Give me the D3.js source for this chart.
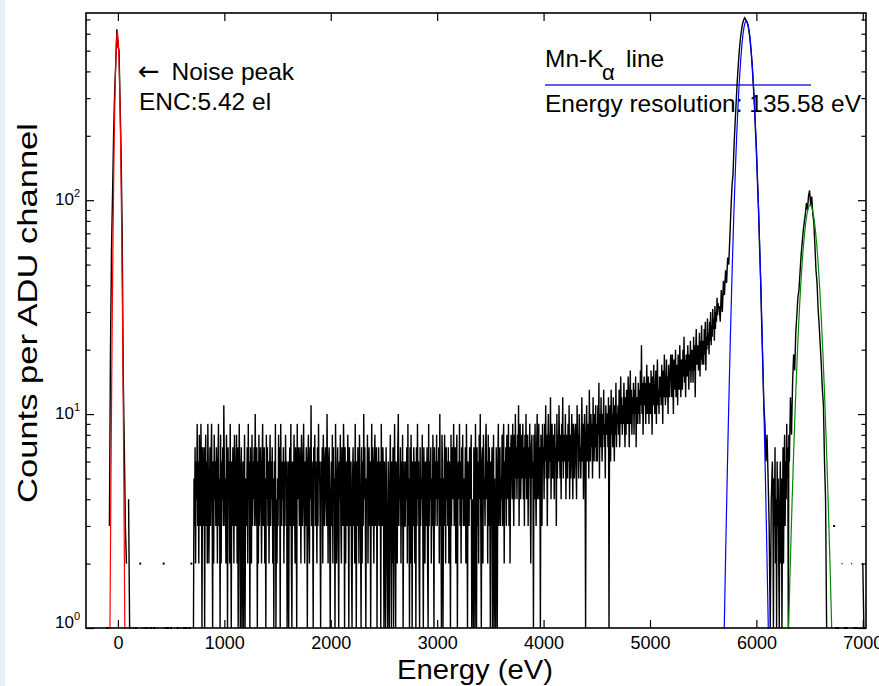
<!DOCTYPE html>
<html><head><meta charset="utf-8">
<script src="https://cdn.jsdelivr.net/npm/d3@7"></script>
<style>body{margin:0;background:#fff}svg{display:block}</style>
</head><body>
<svg id="chart" width="879" height="686"></svg>
<script>
// ---------------- DATA ----------------
// measured spectrum, counts per ADU channel (0 = empty channel)
const noisePeakStart = -110, noisePeakStep = 10;
const noisePeakCounts = [0,1,0,3,20,60,110,210,330,440,630,520,505,290,165,70,15,7,3,2,0,4,1];

const lowGapStart = 120, lowGapStep = 10;
const lowGapCounts = [1,0,1,1,0,1,0,0,0,2,0,1,1,0,1,0,1,1,0,1,0,0,1,0,1,1,0,0,0,0,0,2,0,1,0,1,0,0,1,0,0,0,0,0,1,0,1,1,0,0,1,0,1,0,0,1,0,2];

const plateauStart = 700, plateauStep = 5;
const plateauCounts = [
0,0,1,5,3,7,2,6,4,9, 3,6,2,8,4,3,9,5,1,7, 4,3,7,1,5,8,3,6,2,9, 5,2,4,7,3,6,9,4,1,6,
2,8,4,6,3,7,5,2,6,9, 3,5,1,8,2,6,4,7,3,11, 6,3,5,2,8,5,1,7,4,6, 2,9,4,1,6,3,7,5,2,8,
4,3,6,8,2,7,1,3,9,5, 1,5,7,1,3,6,1,4,8,1, 5,3,4,7,2,9,4,6,1,7, 4,2,8,3,6,4,7,3,10,5,
3,7,1,6,2,8,3,5,7,4, 2,6,9,3,4,7,2,5,1,8, 4,7,3,6,2,5,8,3,6,4, 7,2,5,1,6,3,9,1,4,2,
5,3,8,4,7,1,9,4,3,6, 4,7,2,6,3,8,5,6,1,3, 6,1,5,7,3,9,2,1,6,4, 3,8,4,2,7,5,1,9,4,7,
5,3,7,4,2,8,6,3,5,9, 4,2,6,3,7,5,1,6,8,3, 2,7,4,11,3,6,4,1,7,5, 8,3,6,4,2,7,3,9,5,6,
3,1,6,4,7,2,8,5,3,6, 7,4,3,10,5,2,6,7,3,1, 4,6,3,8,2,7,4,5,1,9, 5,2,4,7,3,1,6,4,8,3,
2,7,4,3,9,6,1,7,2,5, 6,3,8,4,1,7,5,3,6,2, 1,5,7,3,6,2,9,4,1,6, 3,7,4,2,8,5,3,1,7,2,
6,3,10,4,7,3,1,5,4,8, 2,5,7,3,6,1,4,9,3,7, 4,2,6,8,3,5,7,1,6,3, 7,4,3,6,1,9,4,3,7,5,
1,6,3,1,7,4,2,1,6,3, 1,5,8,3,1,6,2,7,1,4, 9,3,1,6,4,2,7,10,3,5, 4,7,2,6,3,8,1,4,6,3,
3,6,4,7,2,9,3,5,1,7, 2,8,4,1,6,3,7,5,2,6, 1,7,3,9,4,6,2,1,7,3, 5,4,8,3,1,7,4,2,6,3,
4,7,2,1,9,3,6,4,7,2, 5,3,8,4,1,7,3,6,4,8, 3,6,4,7,2,10,3,5,1,8, 6,1,5,3,8,5,2,7,4,6,
3,7,2,6,4,1,8,3,7,4, 5,9,3,4,7,2,6,8,1,4, 6,4,9,3,6,2,7,4,8,3, 5,3,4,7,2,9,5,1,6,4,
3,7,4,6,8,1,4,3,1,7, 5,1,9,4,1,7,3,6,2,8, 4,10,3,1,6,7,2,8,4,5, 3,7,9,4,6,2,8,3,7,4,
1,6,3,7,1,4,8,1,5,2, 1,7,4,1,6,9,3,5,7,3, 5,4,8,3,7,9,2,6,4,7, 3,8,5,4,9,3,7,2,6,8,
6,4,9,5,3,8,4,10,5,7, 4,8,5,11,3,7,9,4,6,8, 5,9,4,7,3,8,5,10,4,6, 8,3,7,5,9,4,2,7,8,5,
6,1,8,4,9,5,3,7,10,4, 5,9,4,7,1,8,6,3,9,6];

const tailStart = 4000, tailStep = 5;
const tailCounts = [
7,4,9,6,11,5,8,3,7,10, 5,8,6,12,4,7,9,5,6,8, 4,9,6,7,3,10,5,8,6,11, 7,5,8,4,9,6,12,5,7,8,
6,10,4,7,8,5,9,6,11,4, 8,5,7,10,6,4,9,7,5,8, 9,6,4,11,7,8,5,10,6,7, 5,8,12,6,9,4,7,10,6,1,
8,11,6,7,9,5,13,8,6,10, 7,9,5,12,8,6,10,7,11,6, 9,6,11,8,14,5,10,7,12,8, 6,10,8,13,7,9,5,11,8,10,
10,7,12,1,9,11,6,13,8,10, 7,12,9,6,11,8,14,7,10,9, 11,8,13,7,10,15,9,12,8,11, 9,14,10,7,12,8,13,11,9,15,
12,7,11,16,9,13,8,12,10,14, 8,13,10,15,7,12,11,9,14,10, 13,9,16,11,21,10,14,8,12,15, 11,14,9,13,17,10,12,15,9,13,
14,10,16,12,8,15,11,17,13,10, 12,16,9,14,18,11,13,10,15,12, 15,11,17,13,9,16,12,19,14,11, 13,18,12,15,10,17,14,12,16,19,
16,12,19,14,10,18,13,15,20,12, 14,17,11,19,15,13,21,16,12,18, 17,13,20,15,23,14,18,12,19,16, 15,21,17,13,19,16,22,14,18,20,
18,14,23,16,21,12,20,25,17,19, 21,16,19,24,15,22,18,26,17,20, 22,17,25,19,27,16,23,20,28,21, 24,19,27,22,30,21,26,23,31,25,
28,22,32,25,30,27,35,29,33,31];

const kaPeakStart = 5650, kaPeakStep = 10;
const kaPeakCounts = [32,27,38,30,42,36,47,41,54,50,66,88,115,132,180,229,288,360,430,505,570,622,668,695,712,
698,684,660,618,568,497,430,352,288,220,170,122,90,60,42,26,17,11,9,6,8,5,3,1,4,6];

const valleyStart = 6155, valleyStep = 5;
const valleyCounts = [4,1,5,3,7,2,4,1,6,3, 5,2,1,4,6,2,5,1,3,7, 2,5,8,3,6,4,9,5,7,1, 8];

const kbPeakStart = 6310, kbPeakStep = 10;
const kbPeakCounts = [6,12,8,14,19,16,24,29,35,38,46,55,63,72,79,86,97,90,105,111,95,104,86,79,61,47,41,31,26,21,17,13,11,6,4,1];

const highStart = 6670, highStep = 10;
const highCounts = [0,0,0,0,0,0,3,0,1,0,1,0,0,2,2,0,1,0,1,0,0,0,2,2,0,1,0,1,0,0,0,0,2,2,1,0];

// Gaussian fit curves (counts at 10 eV steps)
const fitStep = 10;
const noiseFitStart = -85;
const noiseFitCounts = [0.137,0.98,5.44,23.1,75.5,189.7,366.3,543.6,620,543.6,366.3,189.7,75.5,23.1,5.44,0.98,0.137];

const kaFitStart = 5695;
const kaFitCounts = [0.82,1.54,2.80,4.92,8.40,13.9,22.3,34.7,52.4,76.7,108.9,150,200.5,260,326.8,398,471.2,541,601.5,649,679.6,
690,679.6,649,601.5,541,471.2,398,326.8,260,200.5,150,108.9,76.7,52.4,34.7,22.3,13.9,8.40,4.92,2.80,1.54,0.82];

const kbFitStart = 6285;
const kbFitCounts = [0.44,0.71,1.12,1.72,2.60,3.83,5.53,7.80,10.75,14.5,19.2,24.8,31.3,38.6,46.7,55.1,63.7,71.9,79.5,85.96,90.9,93.95,
95,93.95,90.9,85.96,79.5,71.9,63.7,55.1,46.7,38.6,31.3,24.8,19.2,14.5,10.75,7.80,5.53,3.83,2.60,1.72,1.12,0.71,0.44];

const xTicks = [0,1000,2000,3000,4000,5000,6000,7000];
const yMajor = [1,10,100];
const yMajorExp = ["0","1","2"];
const yMinor = [2,3,4,5,6,7,8,9,20,30,40,50,60,70,80,90,200,300,400,500,600,700];

// ---------------- DRAW ----------------
const svg = d3.select('#chart');
const FONT = "'Liberation Sans', Arial, Helvetica, sans-serif";
const L = 86, R = 866, T = 13, B = 628;

svg.append('rect').attr('x',0).attr('y',0).attr('width',879).attr('height',686).attr('fill','#fff');
svg.append('rect').attr('x',0).attr('y',0).attr('width',5).attr('height',686).attr('fill','#e6f3f6');

const x = d3.scaleLinear().domain([-300,7030]).range([L,R]);
const y = d3.scaleLog().domain([1,750]).range([B,T]);

function toPoints(start, step, arr){ return arr.map((c,i)=>({e:start+i*step, c})); }
const regions = [
  [noisePeakStart,noisePeakStep,noisePeakCounts],[lowGapStart,lowGapStep,lowGapCounts],
  [plateauStart,plateauStep,plateauCounts],[tailStart,tailStep,tailCounts],
  [kaPeakStart,kaPeakStep,kaPeakCounts],[valleyStart,valleyStep,valleyCounts],
  [kbPeakStart,kbPeakStep,kbPeakCounts],[highStart,highStep,highCounts]
];
const spectrum = regions.flatMap(r=>toPoints(r[0],r[1],r[2]));

const defs = svg.append('defs');
defs.append('clipPath').attr('id','plotclip').append('rect')
  .attr('x',L).attr('y',T-1).attr('width',R-L).attr('height',B-T+2);

// annotations (under curves)
const ann = svg.append('g').attr('font-family',FONT).attr('fill','#000').attr('font-size',24.5);
const t1 = ann.append('text').attr('y',80);
t1.append('tspan').attr('x',138).attr('font-family',"'DejaVu Sans', sans-serif").attr('font-size',26).text('←');
t1.append('tspan').attr('x',171.5).text('Noise peak');
ann.append('text').attr('x',139).attr('y',110).text('ENC:5.42 el');
const t3 = ann.append('text').attr('y',67);
t3.append('tspan').attr('x',545).text('Mn-K');
t3.append('tspan').attr('x',602).attr('y',80).attr('font-size',22).text('α');
t3.append('tspan').attr('x',626).attr('y',67).text('line');
ann.append('line').attr('x1',545).attr('x2',811).attr('y1',85).attr('y2',85)
  .attr('stroke','#2a2ae6').attr('stroke-width',1.3);
ann.append('text').attr('x',545).attr('y',112).text('Energy resolution: 135.58 eV');

const plot = svg.append('g').attr('clip-path','url(#plotclip)');
const line = d3.line().defined(d=>d.c>0).x(d=>x(d.e)).y(d=>y(d.c));

plot.append('path').datum(spectrum).attr('d',line)
  .attr('fill','none').attr('stroke','#000').attr('stroke-width',1.4).attr('stroke-linejoin','miter');

// isolated points (neighbours empty)
const iso = spectrum.filter((d,i)=> d.c>0 && !(spectrum[i-1] && spectrum[i-1].c>0) && !(spectrum[i+1] && spectrum[i+1].c>0));
plot.selectAll('rect.iso').data(iso).join('rect').attr('class','iso')
  .attr('x',d=>x(d.e)-1).attr('y',d=>y(d.c)-1).attr('width',2).attr('height',2).attr('fill','#000');

const fitLine = d3.line().x(d=>x(d.e)).y(d=>y(Math.max(d.c,0.05)));
[[noiseFitStart,noiseFitCounts,'#ff0000'],[kaFitStart,kaFitCounts,'#0000ff'],[kbFitStart,kbFitCounts,'#008a00']]
.forEach(([s,arr,col])=>{
  plot.append('path').datum(toPoints(s,fitStep,arr)).attr('d',fitLine)
    .attr('fill','none').attr('stroke',col).attr('stroke-width',1.2);
});

// axes
function styleAxis(g){ g.select('.domain').remove(); g.selectAll('line').attr('stroke','#000').attr('stroke-width',1.2); }
const gx = svg.append('g').attr('transform',`translate(0,${B})`)
  .call(d3.axisBottom(x).tickValues(xTicks).tickSize(-8).tickPadding(8.5).tickFormat(d3.format('d')));
styleAxis(gx);
gx.selectAll('text').attr('font-family',FONT).attr('font-size',18).attr('fill','#000');
const gxt = svg.append('g').attr('transform',`translate(0,${T})`)
  .call(d3.axisTop(x).tickValues(xTicks).tickSize(-8).tickFormat(''));
styleAxis(gxt);

[[d3.axisLeft, L],[d3.axisRight, R]].forEach(([ax,pos])=>{
  const g1 = svg.append('g').attr('transform',`translate(${pos},0)`)
    .call(ax(y).tickValues(yMajor).tickSize(-8).tickFormat(''));
  styleAxis(g1);
  const g2 = svg.append('g').attr('transform',`translate(${pos},0)`)
    .call(ax(y).tickValues(yMinor).tickSize(-4.5).tickFormat(''));
  styleAxis(g2);
});

// y tick labels with superscripts
const yl = svg.append('g').attr('font-family',FONT).attr('fill','#000');
yMajor.forEach((v,i)=>{
  const base = Math.min(y(v)+5, B);
  const t = yl.append('text').attr('x',80).attr('y',base).attr('text-anchor','end').attr('font-size',17);
  t.append('tspan').text('10');
  t.append('tspan').attr('dy',-8).attr('font-size',11).text(yMajorExp[i]);
});

// frame
svg.append('rect').attr('x',L).attr('y',T).attr('width',R-L).attr('height',B-T)
  .attr('fill','none').attr('stroke','#000').attr('stroke-width',1.6);

// titles
svg.append('text').attr('x',475).attr('y',679).attr('text-anchor','middle')
  .attr('font-family',FONT).attr('font-size',27).attr('textLength',156).attr('lengthAdjust','spacingAndGlyphs')
  .text('Energy (eV)');
svg.append('text').attr('transform','translate(37,313) rotate(-90)').attr('text-anchor','middle')
  .attr('font-family',FONT).attr('font-size',28).attr('textLength',380).attr('lengthAdjust','spacingAndGlyphs')
  .text('Counts per ADU channel');
</script>
</body></html>
